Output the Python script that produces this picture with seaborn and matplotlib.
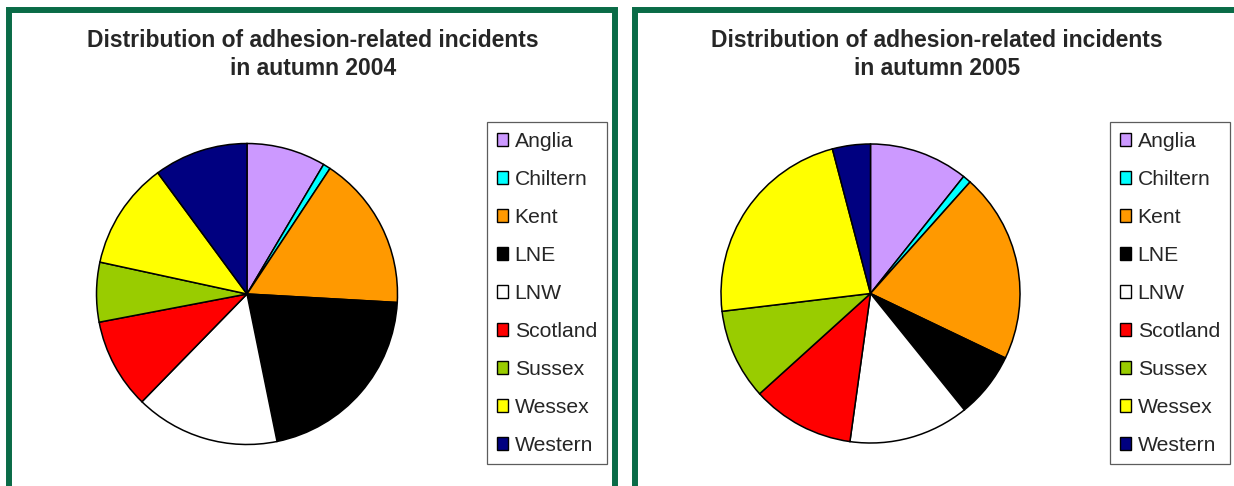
import matplotlib
matplotlib.use("Agg")
import matplotlib.pyplot as plt
from matplotlib.patches import Rectangle, Patch
import seaborn as sns

# Share of adhesion-related incidents per route (%)
routes = ['Anglia', 'Chiltern', 'Kent', 'LNE', 'LNW', 'Scotland', 'Sussex', 'Wessex', 'Western']
share_2004 = [8.5, 0.8, 16.6, 20.9, 15.5, 9.7, 6.4, 11.5, 10.1]
share_2005 = [10.7, 0.9, 20.5, 7.1, 13.0, 11.1, 9.8, 22.8, 4.1]
titles = ['Distribution of adhesion-related incidents\nin autumn 2004',
          'Distribution of adhesion-related incidents\nin autumn 2005']

# classic Excel chart colours
colors = ['#CC99FF', '#00FFFF', '#FF9900', '#000000', '#FFFFFF',
          '#FF0000', '#99CC00', '#FFFF00', '#000080']

sns.set_theme(style="white")
plt.rcParams['font.family'] = ['Liberation Sans', 'DejaVu Sans']

W, H = 1234, 486
fig = plt.figure(figsize=(W / 100, H / 100), dpi=100)
fig.patch.set_facecolor('white')

def fx(px):
    return px / W

def fy(py):
    return 1 - py / H

green = '#0A6B47'
# green frames round each chart (they run past the bottom / right edge)
for x0, x1 in [(9, 614.5), (634.5, 1260)]:
    fig.patches.append(Rectangle((fx(x0), fy(520)), fx(x1 - x0), (520 - 10) / H,
                                 transform=fig.transFigure, fill=False,
                                 edgecolor=green, linewidth=4.3))

panels = [
    dict(data=share_2004, title=titles[0], cx=247, cy=294, r=152, tx=313, lx=487),
    dict(data=share_2005, title=titles[1], cx=870.5, cy=293.5, r=151, tx=937, lx=1110),
]

for p in panels:
    r = p['r']
    ax = fig.add_axes([fx(p['cx'] - r), fy(p['cy'] + r), fx(2 * r), 2 * r / H])
    ax.pie(p['data'], colors=colors, startangle=90, counterclock=False,
           radius=1, wedgeprops=dict(edgecolor='black', linewidth=1.1))
    ax.set_xlim(-1.01, 1.01)
    ax.set_ylim(-1.01, 1.01)
    ax.set_aspect('equal')
    ax.axis('off')

    fig.text(fx(p['tx']), fy(29), p['title'], ha='center', va='top',
             fontsize=16.5, fontweight='bold', linespacing=1.3)

    handles = [Patch(facecolor=c, edgecolor='black', linewidth=1.0) for c in colors]
    leg = fig.legend(handles, routes, loc='upper left',
                     bbox_to_anchor=(fx(p['lx']), fy(122)), borderaxespad=0,
                     fontsize=15.2, frameon=True, fancybox=False, shadow=False,
                     handlelength=0.55, handleheight=0.55, handletextpad=0.3,
                     labelspacing=0.9, borderpad=0.46)
    leg.get_frame().set_edgecolor('#333333')
    leg.get_frame().set_linewidth(0.9)

fig.savefig('out.png', dpi=100, facecolor='white')
